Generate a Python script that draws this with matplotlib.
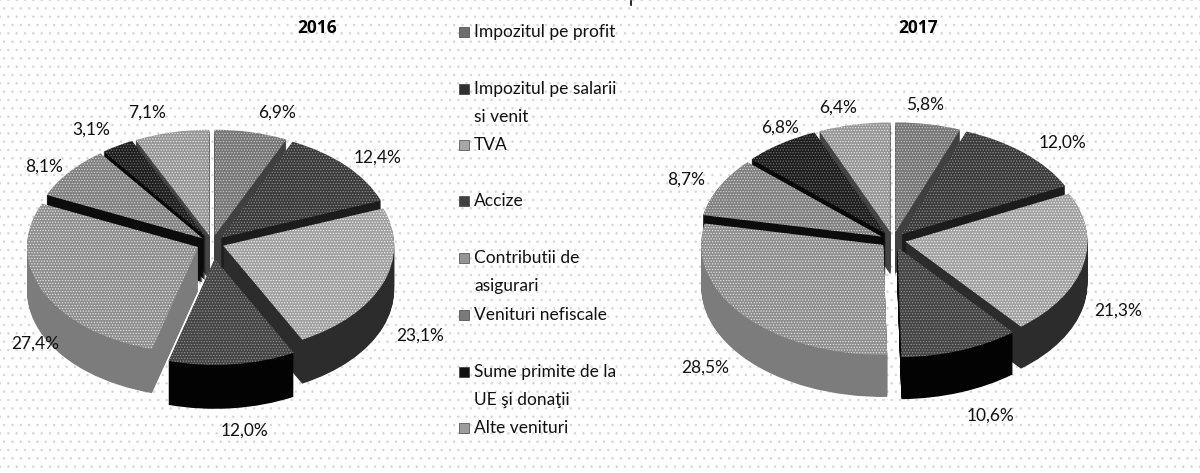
import matplotlib
matplotlib.use("Agg")
import matplotlib.pyplot as plt
from matplotlib.patches import Rectangle

plt.rcParams['font.family'] = ['Lato', 'DejaVu Sans']
plt.rcParams['hatch.linewidth'] = 0.5

# Data
values_2016 = [6.9, 12.4, 23.1, 12.0, 27.4, 8.1, 3.1, 7.1]
values_2017 = [5.8, 12.0, 21.3, 10.6, 28.5, 8.7, 6.8, 6.4]
labels_2016 = ["6,9%", "12,4%", "23,1%", "12,0%", "27,4%", "8,1%", "3,1%", "7,1%"]
labels_2017 = ["5,8%", "12,0%", "21,3%", "10,6%", "28,5%", "8,7%", "6,8%", "6,4%"]
categories = ["Impozitul pe profit", "Impozitul pe salarii\nsi venit", "TVA", "Accize",
              "Contributii de\nasigurari", "Venituri nefiscale",
              "Sume primite de la\nUE şi donaţii", "Alte venituri"]

# Greys of the dithered slices
top_colors = ["#767676", "#3a3a3a", "#a0a0a0", "#444444", "#8e8e8e", "#808080", "#1e1e1e", "#969696"]
side_colors = ["#404040", "#1c1c1c", "#2c2c2c", "#030303", "#7c7c7c", "#0c0c0c", "#080808", "#444444"]
hatch_colors = ["#d0d0d0", "#989898", "#f8f8f8", "#989898", "#ececec", "#dcdcdc", "#787878", "#f0f0f0"]

W, H = 1200, 473
fig = plt.figure(figsize=(W / 100, H / 100), dpi=100)

# Page with the scanner stipple, in pixel coordinates
page = fig.add_axes([0, 0, 1, 1], zorder=0)
page.set_xlim(0, W)
page.set_ylim(H, 0)
page.axis("off")
page.add_patch(Rectangle((0, 0), W, H, facecolor="white", edgecolor="#d4d4d4", hatch="..", lw=0))


def draw_pie(values, cx, cy, ux, uy, depth, exp):
    # squashed pie, extruded by stacking copies downward
    xr = 1.3
    yr_top = 1.3
    yr_bot = 1.3 + depth / uy
    ax = fig.add_axes([(cx - xr * ux) / W, (H - cy - yr_bot * uy) / H,
                       2 * xr * ux / W, (yr_top + yr_bot) * uy / H], zorder=1)
    for k in range(depth, 0, -1):
        ax.pie(values, explode=exp, colors=side_colors, startangle=90, counterclock=False,
               center=(0, -k / uy), wedgeprops={"linewidth": 0})
    wedges, _ = ax.pie(values, explode=exp, colors=top_colors, startangle=90, counterclock=False,
                       wedgeprops={"linewidth": 0})
    for w, c in zip(wedges, hatch_colors):
        w.set_edgecolor(c)
        w.set_hatch("......")
        w.set_linewidth(0)
    ax.set_aspect("auto")
    ax.set_xlim(-xr, xr)
    ax.set_ylim(-yr_bot, yr_top)
    ax.axis("off")
    return ax


draw_pie(values_2016, 212, 243, 171, 106, 44, [0.07, 0.07, 0.07, 0.15, 0.09, 0.07, 0.07, 0.07])
draw_pie(values_2017, 893, 240, 182, 110, 42, [0.07] * 8)

text = fig.add_axes([0, 0, 1, 1], zorder=2)
text.set_xlim(0, W)
text.set_ylim(H, 0)
text.axis("off")
text.patch.set_alpha(0)

text.text(317, 28, "2016", fontsize=12.5, fontweight="bold", family="Open Sans", ha="center", va="center")
text.text(918, 28, "2017", fontsize=12.5, fontweight="bold", family="Open Sans", ha="center", va="center")
text.plot([631, 631], [1, 5], color="black", lw=1.2)

pos_2016 = [(277, 113), (378, 158), (420, 336), (245, 431), (35, 344), (44, 167), (91, 130), (147, 113)]
pos_2017 = [(925, 105), (1063, 143), (1118, 311), (990, 416), (705, 368), (686, 180), (780, 128), (838, 108)]
for labels, pos in ((labels_2016, pos_2016), (labels_2017, pos_2017)):
    for s, (x, y) in zip(labels, pos):
        text.text(x, y, s, fontsize=12.5, ha="center", va="center", color="#111111")

# Hand placed legend, rows are not evenly spaced in the original
legend_y = [32, 89, 145, 201, 258, 315, 372, 428]
line_step = 28
legend_fill = ["#6e6e6e", "#303030", "#a6a6a6", "#404040", "#959595", "#7a7a7a", "#111111", "#9c9c9c"]
for name, y, c in zip(categories, legend_y, legend_fill):
    text.add_patch(Rectangle((459, y - 5), 10, 10, facecolor=c, edgecolor="#222222", lw=0.4))
    for i, line in enumerate(name.split("\n")):
        text.text(474, y + i * line_step, line, fontsize=12.5, ha="left", va="center", color="#111111")

fig.savefig("out.png", dpi=100)
